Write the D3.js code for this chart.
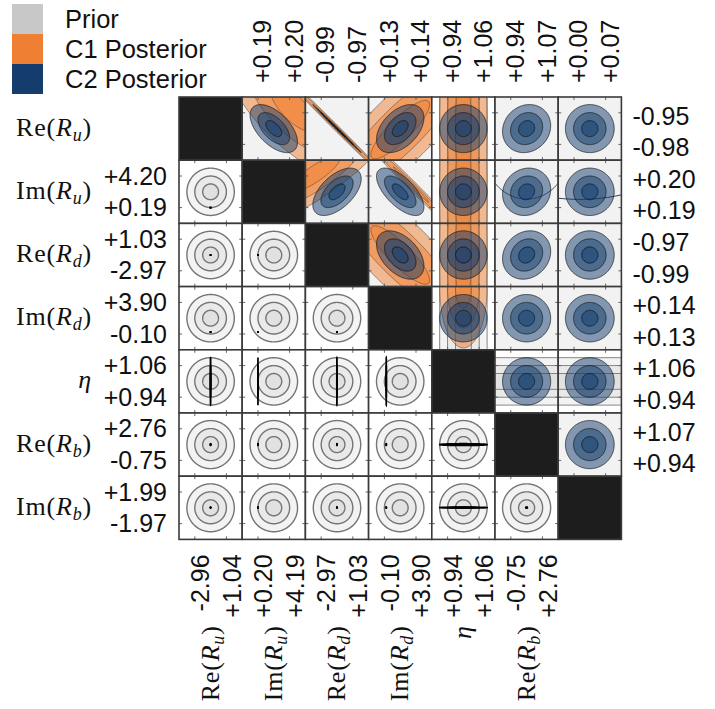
<!DOCTYPE html>
<html>
<head>
<meta charset="utf-8">
<script src="https://cdn.jsdelivr.net/npm/d3@7"></script>
<style>
  body { margin: 0; background: #fff; }
</style>
</head>
<body>
<div id="chart"></div>
<script>
// parameter names: function part and subscript (null = eta)
const labelFn  = ["Re", "Im", "Re", "Im", null, "Re", "Im"];
const labelSub = ["u", "u", "d", "d", null, "b", "b"];

// tick labels as printed (prior axes: left / bottom, posterior axes: top / right)
const leftTicks   = [null, ["+4.20", "+0.19"], ["+1.03", "-2.97"], ["+3.90", "-0.10"], ["+1.06", "+0.94"], ["+2.76", "-0.75"], ["+1.99", "-1.97"]];
const bottomTicks = [["-2.96", "+1.04"], ["+0.20", "+4.19"], ["-2.97", "+1.03"], ["-0.10", "+3.90"], ["+0.94", "+1.06"], ["-0.75", "+2.76"], null];
const topTicks    = [null, ["+0.19", "+0.20"], ["-0.99", "-0.97"], ["+0.13", "+0.14"], ["+0.94", "+1.06"], ["+0.94", "+1.07"], ["+0.00", "+0.07"]];
const rightTicks  = [["-0.95", "-0.98"], ["+0.20", "+0.19"], ["-0.97", "-0.99"], ["+0.14", "+0.13"], ["+1.06", "+0.94"], ["+1.07", "+0.94"], null];

// prior (gaussian) mean / sd
const priorMean = [-0.96, 2.195, -0.97, 1.90, 1.00, 1.005, 0.01];
const priorSd   = [1.00, 1.00, 1.00, 1.00, 0.030, 0.89, 1.00];

// C2 posterior mean / sd and correlations [a, b, rho]
const c2Mean = [-0.965, 0.195, -0.98, 0.135, 1.00, 1.005, 0.035];
const c2Sd   = [0.0076, 0.0025, 0.0051, 0.0025, 0.030, 0.033, 0.018];
const c2Rho  = [[0, 1, -0.56], [0, 2, -0.999], [0, 3, 0.45], [0, 5, 0.12], [1, 2, 0.55],
                [1, 3, -0.65], [1, 5, 0.1], [2, 3, -0.45], [2, 5, 0.15]];

// C1 posterior, per panel (r = y parameter, c = x parameter)
const c1Panels = [
  {r: 0, c: 1, mx: 0.2013, my: -0.946, sx: 0.0072, sy: 0.0217, rho: -0.72},
  {r: 0, c: 2, mx: -0.98, my: -0.965, sx: 0.0127, sy: 0.019, rho: -0.998},
  {r: 0, c: 3, mx: 0.135, my: -0.966, sx: 0.0093, sy: 0.0278, rho: 0.86},
  {r: 0, c: 4, mx: 1.00, my: -0.965, sx: 0.030, sy: 0.057, rho: 0},
  {r: 1, c: 2, mx: -0.9939, my: 0.2007, sx: 0.0158, sy: 0.0057, rho: 0.85},
  {r: 1, c: 3, mx: 0.1384, my: 0.1973, sx: 0.0056, sy: 0.0056, rho: -0.993},
  {r: 1, c: 4, mx: 1.00, my: 0.195, sx: 0.030, sy: 0.019, rho: 0},
  {r: 2, c: 3, mx: 0.135, my: -0.98, sx: 0.0093, sy: 0.0185, rho: -0.86},
  {r: 2, c: 4, mx: 1.00, my: -0.98, sx: 0.030, sy: 0.038, rho: 0},
  {r: 3, c: 4, mx: 1.00, my: 0.1445, sx: 0.030, sy: 0.0063, rho: 0}
];
// C1 outer contour only (very wide)
const c1Outlines = [
  {r: 1, c: 5, mx: 1.005, my: 0.2077, sx: 0.0579, sy: 0.0050, rho: 0},
  {r: 1, c: 6, mx: 0.0128, my: 0.2583, sx: 0.1477, sy: 0.0219, rho: 0}
];

const legendNames = ["Prior", "C1 Posterior", "C2 Posterior"];
const legendColors = ["#c8c8c8", "#ef7f32", "#143d6e"];

const N = 7;
const gx = 179, gy = 97, s = 63.2;
const levels = [3, 2, 1];
const priorFill = {3: "#f3f3f3", 2: "#e9e9e9", 1: "#e1e1e1"};
const sansFont = "'Liberation Sans', Arial, Helvetica, sans-serif";
const serifFont = "'Liberation Serif', 'Times New Roman', serif";

const svg = d3.select("#chart").append("svg")
  .attr("width", 715)
  .attr("height", 709);

svg.append("defs").append("clipPath").attr("id", "cellclip")
  .append("rect").attr("width", s).attr("height", s);

const rhoOf = (a, b) => {
  const f = c2Rho.find(p => (p[0] === a && p[1] === b) || (p[0] === b && p[1] === a));
  return f ? f[2] : 0;
};

// ellipse contour at k sigma, mapped through x/y scales
const ellipsePath = (mx, my, sx, sy, rho, k, xs, ys) => {
  const n = 360;
  const q = Math.sqrt(Math.max(0, 1 - rho * rho));
  const pts = d3.range(n).map(i => {
    const t = 2 * Math.PI * i / n;
    const a = Math.cos(t), b = Math.sin(t);
    return [xs(mx + k * sx * a), ys(my + k * sy * (rho * a + q * b))];
  });
  return d3.line().curve(d3.curveLinearClosed)(pts);
};

const priorX = j => d3.scaleLinear().domain(bottomTicks[j].map(Number)).range([0.25 * s, 0.75 * s]);
const priorY = i => d3.scaleLinear().domain([+leftTicks[i][1], +leftTicks[i][0]]).range([0.75 * s, 0.25 * s]);
const postX = j => d3.scaleLinear().domain(topTicks[j].map(Number)).range([0.25 * s, 0.75 * s]);
const postY = i => d3.scaleLinear().domain([+rightTicks[i][1], +rightTicks[i][0]]).range([0.75 * s, 0.25 * s]);

const drawC2 = (g, xi, yi, xs, ys, small) => {
  levels.forEach(k => {
    g.append("path")
      .attr("d", ellipsePath(c2Mean[xi], c2Mean[yi], c2Sd[xi], c2Sd[yi], rhoOf(xi, yi), k, xs, ys))
      .attr("fill", small ? "#000" : legendColors[2])
      .attr("fill-opacity", small ? 1 : 0.5)
      .attr("stroke", small ? "#000" : "#1a1a1a")
      .attr("stroke-opacity", small ? 1 : 0.75)
      .attr("stroke-width", small ? 1.7 : 1);
  });
};

const cells = [];
for (let i = 0; i < N; i++) for (let j = 0; j < N; j++) cells.push({i, j});

const cellG = svg.append("g").selectAll("g.cell").data(cells).join("g")
  .attr("class", "cell")
  .attr("transform", d => `translate(${gx + d.j * s},${gy + d.i * s})`);

cellG.each(function(d) {
  const g = d3.select(this).append("g").attr("clip-path", "url(#cellclip)");
  const {i, j} = d;
  if (i === j) {
    g.append("rect").attr("width", s).attr("height", s).attr("fill", "#1d1d1d");
    return;
  }
  if (j < i) {
    // lower triangle: prior axes
    const xs = priorX(j), ys = priorY(i);
    g.append("rect").attr("width", s).attr("height", s).attr("fill", "#fff");
    levels.forEach(k => {
      g.append("path")
        .attr("d", ellipsePath(priorMean[j], priorMean[i], priorSd[j], priorSd[i], 0, k, xs, ys))
        .attr("fill", priorFill[k])
        .attr("stroke", "#757575")
        .attr("stroke-width", 1.4);
    });
    drawC2(g, j, i, xs, ys, true);
    return;
  }
  // upper triangle: posterior axes
  const xs = postX(j), ys = postY(i);
  const pxSdX = Math.abs(xs(priorMean[j] + priorSd[j]) - xs(priorMean[j]));
  const pxSdY = Math.abs(ys(priorMean[i] + priorSd[i]) - ys(priorMean[i]));
  const bandX = pxSdX < s, bandY = pxSdY < s;
  g.append("rect").attr("width", s).attr("height", s)
    .attr("fill", bandX || bandY ? "#fff" : "#f2f2f2");
  levels.forEach(k => {
    if (bandX) {
      const x0 = xs(priorMean[j] - k * priorSd[j]), x1 = xs(priorMean[j] + k * priorSd[j]);
      g.append("rect").attr("x", Math.min(x0, x1)).attr("width", Math.abs(x1 - x0))
        .attr("y", -2).attr("height", s + 4)
        .attr("fill", priorFill[k]).attr("stroke", "#7a7a7a").attr("stroke-width", 0.9);
    }
    if (bandY) {
      const y0 = ys(priorMean[i] - k * priorSd[i]), y1 = ys(priorMean[i] + k * priorSd[i]);
      g.append("rect").attr("y", Math.min(y0, y1)).attr("height", Math.abs(y1 - y0))
        .attr("x", -2).attr("width", s + 4)
        .attr("fill", priorFill[k]).attr("stroke", "#7a7a7a").attr("stroke-width", 0.9);
    }
  });
  c1Panels.filter(p => p.r === i && p.c === j).forEach(p => {
    levels.forEach(k => {
      g.append("path")
        .attr("d", ellipsePath(p.mx, p.my, p.sx, p.sy, p.rho, k, xs, ys))
        .attr("fill", legendColors[1])
        .attr("fill-opacity", 0.5)
        .attr("stroke", "#3a3a3a")
        .attr("stroke-opacity", 0.6)
        .attr("stroke-width", 0.8);
    });
  });
  c1Outlines.filter(p => p.r === i && p.c === j).forEach(p => {
    g.append("path")
      .attr("d", ellipsePath(p.mx, p.my, p.sx, p.sy, p.rho, 3, xs, ys))
      .attr("fill", "none")
      .attr("stroke", "#2d405a")
      .attr("stroke-width", 1);
  });
  drawC2(g, j, i, xs, ys, false);
});

// inner tick marks and cell frames
cellG.filter(d => d.i !== d.j).each(function() {
  const g = d3.select(this);
  [0.25, 0.75].forEach(f => {
    const t = f * s;
    [[t, 0, t, 3], [t, s, t, s - 3], [0, t, 3, t], [s, t, s - 3, t]].forEach(l => {
      g.append("line").attr("x1", l[0]).attr("y1", l[1]).attr("x2", l[2]).attr("y2", l[3])
        .attr("stroke", "#666").attr("stroke-width", 1);
    });
  });
});
cellG.append("rect")
  .attr("width", s).attr("height", s)
  .attr("fill", "none")
  .attr("stroke", "#3a3a3a")
  .attr("stroke-width", 1.6);

// axes with tick labels
const styleAxis = ax => {
  ax.select(".domain").remove();
  ax.selectAll(".tick line").remove();
  ax.attr("font-family", sansFont).attr("font-size", 25);
  ax.selectAll("text").attr("fill", "#111");
};

for (let i = 1; i < N; i++) {
  const ax = svg.append("g").attr("transform", `translate(${gx},${gy + i * s})`)
    .call(d3.axisLeft(priorY(i)).tickValues([+leftTicks[i][0], +leftTicks[i][1]])
      .tickFormat((v, k) => leftTicks[i][k]).tickSize(0).tickPadding(12));
  styleAxis(ax);
}
for (let i = 0; i < N - 1; i++) {
  const ax = svg.append("g").attr("transform", `translate(${gx + N * s},${gy + i * s})`)
    .call(d3.axisRight(postY(i)).tickValues([+rightTicks[i][0], +rightTicks[i][1]])
      .tickFormat((v, k) => rightTicks[i][k]).tickSize(0).tickPadding(11));
  styleAxis(ax);
  ax.selectAll("text").attr("dy", "0.45em");
}
for (let j = 1; j < N; j++) {
  const ax = svg.append("g").attr("transform", `translate(${gx + j * s},${gy})`)
    .call(d3.axisTop(postX(j)).tickValues(topTicks[j].map(Number))
      .tickFormat((v, k) => topTicks[j][k]).tickSize(0));
  styleAxis(ax);
  ax.selectAll("text")
    .attr("transform", "rotate(-90)")
    .attr("text-anchor", "start")
    .attr("x", 14).attr("y", 4).attr("dy", "0.35em");
}
for (let j = 0; j < N - 1; j++) {
  const ax = svg.append("g").attr("transform", `translate(${gx + j * s},${gy + N * s})`)
    .call(d3.axisBottom(priorX(j)).tickValues(bottomTicks[j].map(Number))
      .tickFormat((v, k) => bottomTicks[j][k]).tickSize(0));
  styleAxis(ax);
  ax.selectAll("text")
    .attr("transform", "rotate(-90)")
    .attr("text-anchor", "end")
    .attr("x", -15).attr("y", 5).attr("dy", "0.35em");
}

// parameter labels
const addLabel = (t, k) => {
  if (labelFn[k] === null) {
    t.append("tspan").attr("font-style", "italic").text("η");
    return;
  }
  t.append("tspan").text(labelFn[k] + "(");
  t.append("tspan").attr("font-style", "italic").text("R");
  t.append("tspan").attr("font-style", "italic").attr("font-size", 18).attr("dy", 5).text(labelSub[k]);
  t.append("tspan").attr("dy", -5).text(")");
};

for (let i = 0; i < N; i++) {
  const t = svg.append("text")
    .attr("x", 92).attr("y", gy + (i + 0.5) * s + 7)
    .attr("text-anchor", "end")
    .attr("letter-spacing", 0.8)
    .attr("font-family", serifFont).attr("font-size", 26).attr("fill", "#111");
  addLabel(t, i);
}
for (let j = 0; j < N - 1; j++) {
  const t = svg.append("text")
    .attr("transform", `translate(${gx + (j + 0.5) * s + 8},${gy + N * s + 86}) rotate(-90)`)
    .attr("text-anchor", "end")
    .attr("letter-spacing", 0.8)
    .attr("font-family", serifFont).attr("font-size", 26).attr("fill", "#111");
  addLabel(t, j);
}

// legend
const legend = svg.append("g");
legendNames.forEach((name, k) => {
  legend.append("rect")
    .attr("x", 12).attr("y", 4 + k * 30).attr("width", 31).attr("height", 30)
    .attr("fill", legendColors[k]);
  legend.append("text")
    .attr("x", 65).attr("y", 19 + k * 30).attr("dy", "0.35em")
    .attr("font-family", sansFont).attr("font-size", 25.5).attr("fill", "#111")
    .text(name);
});
</script>
</body>
</html>
